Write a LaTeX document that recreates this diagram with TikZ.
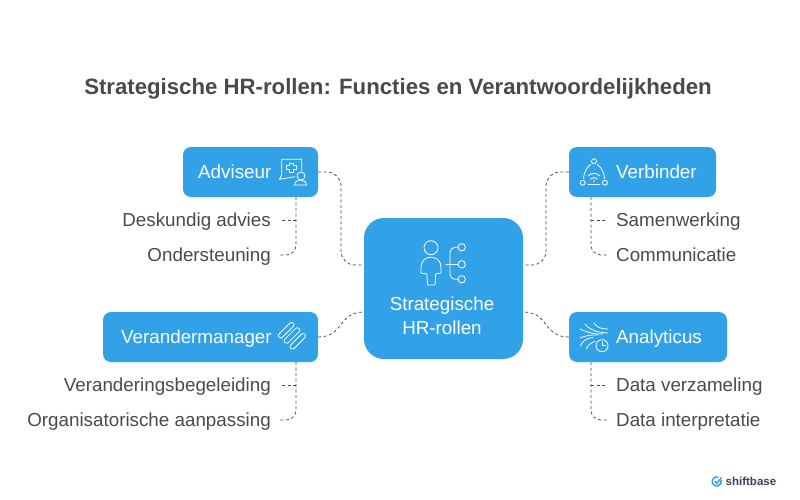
\documentclass[tikz,border=0pt]{standalone}
\usepackage{fontspec}
\setmainfont{Liberation Sans}
\usetikzlibrary{calc, positioning}
\definecolor{hrblue}{HTML}{31A1E8}
\definecolor{hrtext}{HTML}{4A4A4A}
\definecolor{hrlogo}{HTML}{3B4256}
\tikzset{
    hrbox/.style={draw=none, fill=hrblue, rounded corners=8pt, minimum height=50pt, inner sep=0pt},
    hrlabel/.style={text=white, font=\fontsize{18.8}{24}\selectfont, inner sep=0pt},
    hrname/.style={hrlabel, anchor=west, text height=13.5pt, text depth=4pt},
    leafR/.style={text=hrtext, font=\fontsize{18.8}{24}\selectfont, inner sep=0pt, anchor=east, text height=13.5pt, text depth=4pt},
    leafL/.style={text=hrtext, font=\fontsize{18.8}{24}\selectfont, inner sep=0pt, anchor=west, text height=13.5pt, text depth=4pt},
    hrlink/.style={draw=hrtext, dash pattern=on 3pt off 2.5pt, line width=0.75pt},
    hricon/.style={draw=white, line width=0.8pt, line cap=round, line join=round},
}
\begin{document}
\begin{tikzpicture}[x=1pt, y=-1pt]
    \useasboundingbox (0,0) rectangle (800,500);
    \node[text=hrtext, font=\fontsize{22.2}{28}\selectfont\bfseries, inner sep=0pt] (title) at (398,89) {Strategische HR-rollen: Functies en Verantwoordelijkheden};

    \node[hrbox, minimum width=159pt, minimum height=141pt, rounded corners=20pt] (central) at (443.5,288.5) {};
    \node[hrbox, minimum width=135pt] (adviseur) at (250.5,172) {};
    \node[hrbox, minimum width=147pt] (verbinder) at (642.5,172) {};
    \node[hrbox, minimum width=215pt] (manager) at (210.5,337) {};
    \node[hrbox, minimum width=158pt] (analyticus) at (648,337) {};

    \node[hrlabel, align=center] (centraltext) at (442,315.5) {Strategische\\HR-rollen};
    \node[hrname] (advtext) at (198,173.5) {Adviseur};
    \node[hrname] (vertext) at (616,173.5) {Verbinder};
    \node[hrname] (mantext) at (121,338.5) {Verandermanager};
    \node[hrname] (anatext) at (616,338.5) {Analyticus};

    \node[leafR] (advA) at (271,222) {Deskundig advies};
    \node[leafR] (advB) at (271,257) {Ondersteuning};
    \node[leafR] (manA) at (271,387) {Veranderingsbegeleiding};
    \node[leafR] (manB) at (271,422) {Organisatorische aanpassing};
    \node[leafL] (verA) at (616,222) {Samenwerking};
    \node[leafL] (verB) at (616,257) {Communicatie};
    \node[leafL] (anaA) at (616,387) {Data verzameling};
    \node[leafL] (anaB) at (616,422) {Data interpretatie};

    % ports
    \coordinate (cNW) at ($(central.west)+(0,-23.5)$);
    \coordinate (cSW) at ($(central.west)+(0,23.5)$);
    \coordinate (cNE) at ($(central.east)+(0,-23.5)$);
    \coordinate (cSE) at ($(central.east)+(0,23.5)$);

    \draw[hrlink, rounded corners=14pt] (adviseur.east) -- (341,172) -- (341,265) -- (cNW);
    \draw[hrlink, rounded corners=14pt] (verbinder.west) -- (546,172) -- (546,265) -- (cNE);
    \draw[hrlink] (manager.east) .. controls (344,337) and (338,312) .. (cSW);
    \draw[hrlink] (analyticus.west) .. controls (543,337) and (549,312) .. (cSE);

    % branches
    \draw[hrlink, rounded corners=10pt] (adviseur.south -| 296,0) -- (296,255) -- (278,255);
    \draw[hrlink] (296,220) -- (281,220);
    \draw[hrlink, rounded corners=10pt] (manager.south -| 296,0) -- (296,420) -- (278,420);
    \draw[hrlink] (296,385) -- (281,385);
    \draw[hrlink, rounded corners=10pt] (verbinder.south -| 591,0) -- (591,255) -- (609,255);
    \draw[hrlink] (591,220) -- (606,220);
    \draw[hrlink, rounded corners=10pt] (analyticus.south -| 591,0) -- (591,420) -- (609,420);
    \draw[hrlink] (591,385) -- (606,385);

    % central icon
    \draw[hricon] (431,247.7) circle (7);
    \draw[hricon] (427.7,285) -- (426.7,274) -- (421,273) -- (421,267) .. controls (421,254) and (441,254) .. (441,267) -- (441,273) -- (435.7,274) -- (435,285) -- cycle;
    \draw[hricon] (446,264.3) -- (458,264.3);
    \draw[hricon, rounded corners=5pt] (458,247.3) -- (450,247.3) -- (450,279.3) -- (458,279.3);
    \foreach \yy in {247.3,264.3,279.3} {
        \draw[hricon, fill=hrblue] (461.7,\yy) circle (3.7);
    }

    % adviseur icon
    \draw[hricon] (295,176.7) -- (279.5,179.3) -- (281.7,175) -- (281.7,159.3) -- (301.7,159.3) -- (301.7,171);
    \draw[hricon] (289.5,163) -- (293.5,163) -- (293.5,165) -- (296.5,165) -- (296.5,169) -- (293.5,169) -- (293.5,172) -- (289.5,172) -- (289.5,169) -- (286.5,169) -- (286.5,165) -- (289.5,165) -- cycle;
    \draw[hricon, fill=hrblue] (301,176) circle (4);
    \draw[hricon] (294.5,185) .. controls (294.5,178.5) and (306.5,178.5) .. (306.5,185) -- cycle;

    % verbinder icon
    \draw[hricon] (594,161.3) circle (2.5) (582.7,182.7) circle (2.5) (605,182.7) circle (2.5);
    \draw[hricon] (590.5,164.5) .. controls (586,168) and (584,173) .. (583.5,178.5);
    \draw[hricon] (597.5,164.5) .. controls (602,168) and (604,173) .. (604.5,178.5);
    \draw[hricon] (588,184.5) -- (600,184.5);
    \draw[hricon] (588,176) .. controls (591.5,172.5) and (596.5,172.5) .. (600,176);
    \draw[hricon] (590.5,179) .. controls (592.5,177) and (595.5,177) .. (597.5,179);
    \fill[white] (594,181) circle (0.9);

    % analyticus icon
    \draw[hricon] (585,324) .. controls (590,330) and (597,332.5) .. (607.5,333);
    \draw[hricon] (594,323) .. controls (597,327.5) and (601,329) .. (607.5,329);
    \draw[hricon] (580,329) .. controls (588,333) and (597,334.5) .. (603,334);
    \draw[hricon] (580,338) .. controls (586,335.5) and (592,334.5) .. (598,335);
    \draw[hricon] (580.5,346) .. controls (582,341) and (587,338) .. (593,337.5);
    \draw[hricon] (586.5,349) .. controls (588,345) and (591,342.5) .. (595,341.5);
    \draw[hricon] (602,345.7) circle (6);
    \draw[hricon] (602,341.5) -- (602,345.7) -- (606,345.7);

    % manager icon
    \foreach \xx/\yy in {286.2/330.2,292/335.5,297.8/341.3} {
        \draw[hricon, shift={(\xx,\yy)}, rotate=45, rounded corners=2.3pt] (-10,-2.4) rectangle (10,2.4);
    }

    % logo
    \draw[draw=hrblue, line width=1.5pt] ($(716.7,481.5)+(-20:4.6)$) arc (-20:290:4.6);
    \draw[draw=hrblue, line width=1.4pt] (714.7,481) -- (716.7,483.5) -- (721.5,477.5);
    \node[text=hrlogo, font=\fontsize{11.5}{14}\selectfont\bfseries, inner sep=0pt, anchor=west] (logo) at (725.5,481.5) {shiftbase};
\end{tikzpicture}
\end{document}
